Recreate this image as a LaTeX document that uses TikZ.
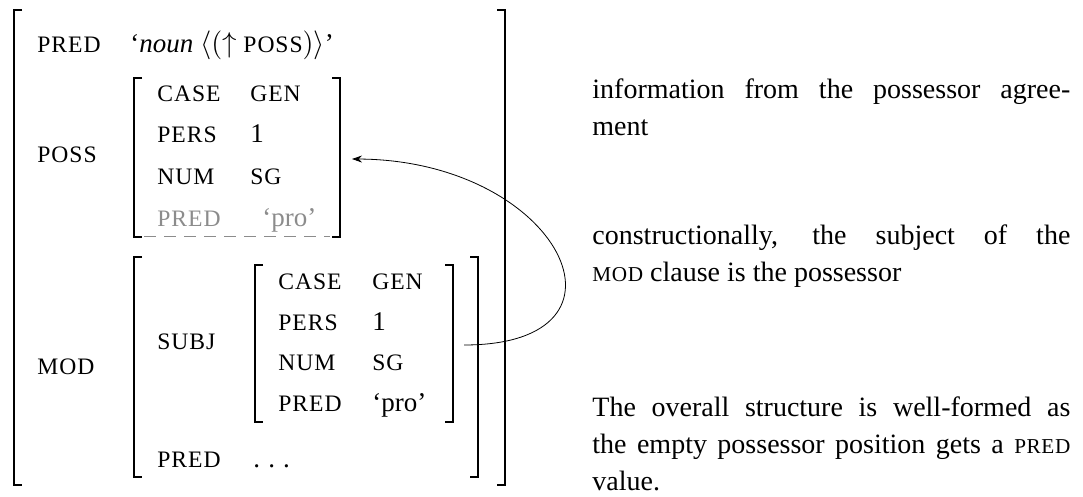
\documentclass[tikz,border=0pt]{standalone}
\usepackage{fontspec}
\setmainfont{Liberation Serif}
\usetikzlibrary{arrows.meta}
\definecolor{ghost}{gray}{0.55}
\newcommand\fsc[1]{{\fontsize{11.8}{12}\selectfont\addfontfeature{LetterSpace=4}#1}}
\newcommand\tsc[1]{{\fontsize{10.6}{12}\selectfont\addfontfeature{LetterSpace=3}#1}}

\begin{document}
\begin{tikzpicture}[x=0.5pt,y=-0.5pt,
  feat/.style={anchor=base west,inner sep=0,font=\fontsize{11.8}{12}\selectfont\addfontfeature{LetterSpace=4}},
  val/.style={anchor=base west,inner sep=0,font=\fontsize{13.5}{14}\selectfont},
  note/.style={anchor=base west,inner sep=0,text width=239pt,align=justify,font=\fontsize{14}{18.5}\selectfont},
  brk/.style={line width=0.6pt}]
	\useasboundingbox (0,0) rectangle (1083,497);
	% outer f-structure
	\node[feat] (1) at (37,53) {PRED};
	\node[val] (2) at (130,53) {‘\textit{noun} $\langle(\uparrow$ \fsc{POSS}$)\rangle$’};
	\node[feat] (3) at (37,163) {POSS};
	\node[feat] (4) at (37,375) {MOD};
	% possessor
	\node[feat] (5) at (157,102) {CASE};
	\node[feat] (6) at (250,102) {GEN};
	\node[feat] (7) at (157,143) {PERS};
	\node[val] (8) at (250,143) {1};
	\node[feat] (9) at (157,185) {NUM};
	\node[feat] (10) at (250,185) {SG};
	\node[feat,text=ghost] (11) at (157,227) {PRED};
	\node[val,text=ghost] (12) at (262,227) {‘pro’};
	% modifier
	\node[feat] (13) at (157,350) {SUBJ};
	\node[feat] (14) at (278,290) {CASE};
	\node[feat] (15) at (372,290) {GEN};
	\node[feat] (16) at (278,331) {PERS};
	\node[val] (17) at (372,331) {1};
	\node[feat] (18) at (278,371) {NUM};
	\node[feat] (19) at (372,371) {SG};
	\node[feat] (20) at (278,412) {PRED};
	\node[val] (21) at (372,412) {‘pro’};
	\node[feat] (22) at (157,467) {PRED};
	\node[val] (23) at (253,467) {.\hspace{0.3em}.\hspace{0.3em}.};
	% notes
	\node[note] (24) at (592,99) {information from the possessor agree-\linebreak ment};
	\node[note] (25) at (592,245) {constructionally, the subject of the\linebreak \tsc{MOD} clause is the possessor};
	\node[note] (26) at (592,417) {The overall structure is well-formed as\linebreak the empty possessor position gets a \tsc{PRED}\linebreak value.};
	% brackets
	\foreach \xa/\ya/\xb/\yb in {14/10/505/485,134/78/340/237,134/257/478/477,255/265/453/422}{
		\draw[brk] (\xa+8,\ya) -- (\xa,\ya) -- (\xa,\yb) -- (\xa+8,\yb);
		\draw[brk] (\xb-8,\ya) -- (\xb,\ya) -- (\xb,\yb) -- (\xb-8,\yb);
	}
	\draw[ghost,line width=0.5pt,dash pattern=on 6 off 4] (144,237) -- (330,237);
	\coordinate (27) at (464,345);
	\coordinate (28) at (352,159);
	\draw [line width=0.4pt,-{Stealth[length=5pt,width=3.5pt]}] (27) .. controls (650,345) and (560,160) .. (28);
\end{tikzpicture}
\end{document}
